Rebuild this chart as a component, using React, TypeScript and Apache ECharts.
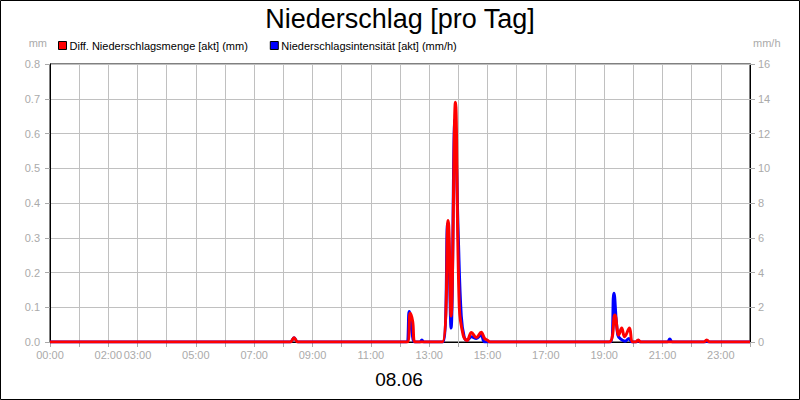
import React, { useEffect, useRef } from "react";
import * as echarts from "echarts";

const titleText = "Niederschlag [pro Tag]";
const dateText = "08.06";
const mengeName = "Diff. Niederschlagsmenge [akt] (mm)";
const intensName = "Niederschlagsintensität [akt] (mm/h)";

const xTickLabels = ["00:00", "02:00", "03:00", "05:00", "07:00", "09:00", "11:00", "13:00", "15:00", "17:00", "19:00", "21:00", "23:00"];

const mengeTimes = [
  "00:00", "08:14", "08:22", "08:30", "12:15", "12:21", "12:26", "12:31",
  "13:27", "13:39", "13:45", "13:54", "14:02", "14:10", "14:18", "14:27", "14:37", "14:47", "14:54", "15:00", "15:05",
  "19:10", "19:22", "19:30", "19:36", "19:42", "19:52", "19:58", "20:05", "20:10", "20:15",
  "22:25", "22:31", "22:37", "24:00",
];
const mengeValues = [
  0, 0, 0.012, 0, 0, 0.083, 0.06, 0,
  0, 0.35, 0.075, 0.69, 0.1, 0.02, 0.004, 0.027, 0.013, 0.028, 0.01, 0.005, 0,
  0, 0.078, 0.02, 0.04, 0.015, 0.04, 0, 0, 0.006, 0,
  0, 0.006, 0, 0,
];

const intensTimes = [
  "00:00", "08:14", "08:22", "08:30", "12:13", "12:19", "12:25", "12:30", "12:41", "12:45", "12:49",
  "13:28", "13:38", "13:45", "13:53", "14:00", "14:06", "14:12", "14:18", "14:27", "14:37", "14:47", "14:55",
  "19:13", "19:20", "19:28", "19:35", "19:43", "19:51", "19:57", "20:06", "20:10", "20:14",
  "21:10", "21:15", "21:20", "22:27", "22:31", "22:35", "24:00",
];
const intensValues = [
  0, 0, 0.25, 0, 0, 1.75, 0.5, 0, 0, 0.12, 0,
  0, 6.8, 0.8, 12.8, 6, 1.5, 0.3, 0.1, 0.3, 0.2, 0.4, 0,
  0, 2.8, 0.4, 0.15, 0.05, 0.2, 0, 0, 0.1, 0,
  0, 0.17, 0, 0, 0.08, 0, 0,
];

const toHours = (t: string) => {
  const [h, m] = t.split(":").map(Number);
  return h + m / 60;
};

const FONT = "'Liberation Sans', Arial, sans-serif";
const GRAY = "#aaaaaa";

export default function App() {
  const ref = useRef<HTMLDivElement>(null);
  useEffect(() => {
    document.body.style.margin = "0";
    const chart = echarts.init(ref.current!, null, { renderer: "svg" });
    const mengeData = mengeTimes.map((t, i) => [toHours(t), mengeValues[i]]);
    const intensData = intensTimes.map((t, i) => [toHours(t), intensValues[i]]);
    chart.setOption({
      animation: false,
      backgroundColor: "#ffffff",
      textStyle: { fontFamily: FONT },
      title: {
        text: titleText,
        left: "center",
        top: 0,
        textStyle: { fontSize: 27, fontWeight: "normal", color: "#000", fontFamily: FONT },
      },
      legend: {
        left: 58,
        top: 40,
        padding: 0,
        itemWidth: 8,
        itemHeight: 8,
        itemGap: 22,
        icon: "rect",
        data: [
          { name: mengeName, itemStyle: { color: "#ff0000", borderColor: "#000", borderWidth: 1 } },
          { name: intensName, itemStyle: { color: "#0000ff", borderColor: "#000", borderWidth: 1 } },
        ],
        textStyle: { fontSize: 11, color: "#000", fontFamily: FONT, padding: [0, 0, 0, -2] },
      },
      grid: {
        left: 50,
        right: 50,
        top: 64,
        bottom: 58,
        show: true,
        borderColor: "#000",
        borderWidth: 1,
        backgroundColor: "#fff",
      },
      xAxis: {
        type: "value",
        min: 0,
        max: 24,
        interval: 1,
        axisLine: { lineStyle: { color: "#000", width: 1 } },
        axisTick: { show: true, length: 5, lineStyle: { color: GRAY } },
        splitLine: { show: true, lineStyle: { color: "#c0c0c0", width: 1 } },
        axisLabel: {
          color: GRAY,
          fontSize: 11,
          fontFamily: FONT,
          margin: 7,
          formatter: (v: number) => {
            const s = String(Math.round(v)).padStart(2, "0") + ":00";
            return xTickLabels.includes(s) ? s : "";
          },
        },
      },
      yAxis: [
        {
          type: "value",
          min: 0,
          max: 0.8,
          interval: 0.1,
          name: "mm",
          nameLocation: "end",
          nameGap: 16,
          nameTextStyle: { color: GRAY, fontSize: 11, fontFamily: FONT, align: "right", padding: [0, 3, 0, 0] },
          axisLine: { show: true, lineStyle: { color: "#000", width: 1 } },
          axisTick: { show: true, length: 5, lineStyle: { color: GRAY } },
          splitLine: { show: true, lineStyle: { color: "#c0c0c0", width: 1 } },
          axisLabel: {
            color: GRAY,
            fontSize: 11,
            fontFamily: FONT,
            margin: 10,
            formatter: (v: number) => v.toFixed(1),
          },
        },
        {
          type: "value",
          min: 0,
          max: 16,
          interval: 2,
          position: "right",
          name: "mm/h",
          nameLocation: "end",
          nameGap: 16,
          nameTextStyle: { color: GRAY, fontSize: 11, fontFamily: FONT, align: "left", padding: [0, 0, 0, 3] },
          axisLine: { show: true, lineStyle: { color: "#000", width: 1 } },
          axisTick: { show: true, length: 5, lineStyle: { color: GRAY } },
          splitLine: { show: false },
          axisLabel: { color: GRAY, fontSize: 11, fontFamily: FONT, margin: 8 },
        },
      ],
      series: [
        {
          name: intensName,
          type: "line",
          yAxisIndex: 1,
          data: intensData,
          smooth: 0.4,
          showSymbol: false,
          symbol: "none",
          color: "#0000ff",
          lineStyle: { color: "#0000ff", width: 3 },
          z: 2,
        },
        {
          name: mengeName,
          type: "line",
          yAxisIndex: 0,
          data: mengeData,
          smooth: 0.4,
          showSymbol: false,
          symbol: "none",
          color: "#ff0000",
          lineStyle: { color: "#ff0000", width: 3 },
          z: 3,
        },
      ],
      graphic: [
        {
          type: "rect",
          shape: { x: 0.5, y: 0.5, width: 799, height: 399 },
          style: { fill: "none", stroke: "#000", lineWidth: 1 },
          silent: true,
          z: 100,
        },
        {
          type: "text",
          x: 399,
          y: 379,
          style: {
            text: dateText,
            fontSize: 19,
            fill: "#000",
            fontFamily: FONT,
            textAlign: "center",
            textVerticalAlign: "middle",
          },
        },
      ],
    });
    return () => chart.dispose();
  }, []);
  return <div ref={ref} style={{ width: 800, height: 400 }} />;
}
